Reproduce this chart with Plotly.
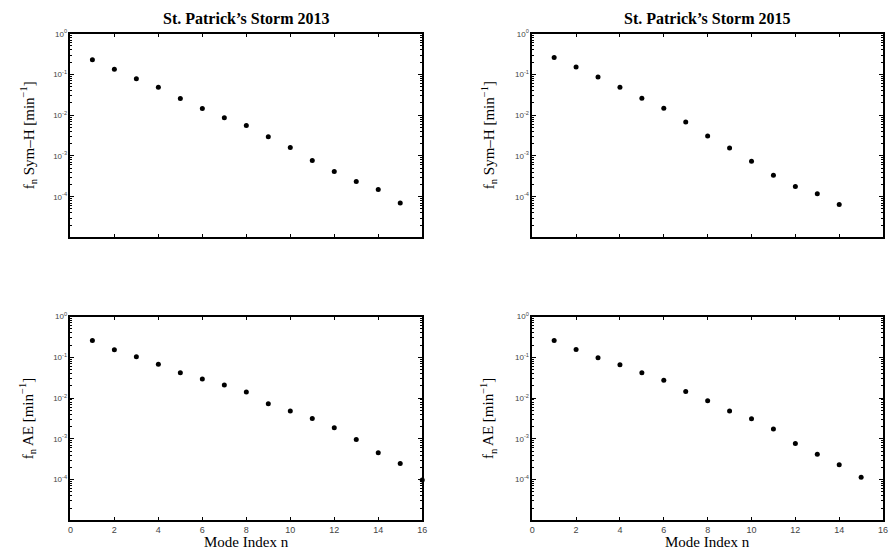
import plotly.graph_objects as go

# ---- data ----
n_sym_2013 = list(range(1, 16))
sym_2013 = [0.23, 0.135, 0.0785, 0.0485, 0.0258, 0.0145, 0.0086, 0.0056, 0.00294,
            0.00162, 0.00077, 0.000418, 0.000235, 0.000150, 0.0000703]

n_sym_2015 = list(range(1, 15))
sym_2015 = [0.262, 0.153, 0.086, 0.0485, 0.0262, 0.0148, 0.00678, 0.0031, 0.00156,
            0.000743, 0.000334, 0.000178, 0.000118, 0.000064]

n_ae_2013 = list(range(1, 17))
ae_2013 = [0.258, 0.153, 0.104, 0.0677, 0.0418, 0.0294, 0.021, 0.014, 0.0073,
           0.00484, 0.00316, 0.00188, 0.000964, 0.000458, 0.000248, 0.0000982]

n_ae_2015 = list(range(1, 16))
ae_2015 = [0.258, 0.156, 0.098, 0.0653, 0.0418, 0.0272, 0.0145, 0.0086, 0.00484,
           0.0031, 0.00175, 0.00077, 0.000418, 0.000231, 0.000114]

titles = ["St. Patrick\u2019s Storm 2013", "St. Patrick\u2019s Storm 2015"]
ylab_sym = "f<sub>n</sub> Sym\u2013H [min<sup>\u22121</sup>]"
ylab_ae = "f<sub>n</sub> AE [min<sup>\u22121</sup>]"
xlab = "Mode Index n"
ytickvals = [1, 0.1, 0.01, 0.001, 0.0001]
yticktext = ["10<sup>0</sup>", "10<sup>-1</sup>", "10<sup>-2</sup>", "10<sup>-3</sup>", "10<sup>-4</sup>"]
xtickvals = list(range(0, 17, 2))

W, H = 896, 550
def px_x(a, b):
    return [a / W, b / W]
def px_y(top, bottom):
    return [1 - bottom / H, 1 - top / H]

dom_x = [px_x(68, 423), px_x(534, 888)]
dom_y = [px_y(28, 234), px_y(314, 520)]

fig = go.Figure()
panels = [
    (n_sym_2013, sym_2013, 0, 0),
    (n_sym_2015, sym_2015, 0, 1),
    (n_ae_2013, ae_2013, 1, 0),
    (n_ae_2015, ae_2015, 1, 1),
]
tick_font = dict(family="Liberation Sans, Arial", size=8, color="#444444")
for i, (xs, ys, r, c) in enumerate(panels):
    k = i + 1
    sfx = "" if k == 1 else str(k)
    fig.add_trace(go.Scatter(x=xs, y=ys, mode="markers", cliponaxis=False,
                             marker=dict(color="black", size=5),
                             xaxis="x" + sfx, yaxis="y" + sfx, showlegend=False))
    xa = dict(domain=dom_x[c], anchor="y" + sfx, range=[0, 16], tickvals=xtickvals,
              ticks="inside", ticklen=4, tickcolor="black", mirror="allticks",
              showline=True, linecolor="black", linewidth=1.5, showgrid=False,
              zeroline=False, showticklabels=(r == 1),
              tickfont=dict(family="Liberation Sans, Arial", size=9, color="#444444"))
    ya = dict(domain=dom_y[r], anchor="x" + sfx, type="log", range=[-5, 0],
              tickvals=ytickvals, ticktext=yticktext,
              ticks="inside", ticklen=4, tickcolor="black", mirror="allticks",
              showline=True, linecolor="black", linewidth=1.5, showgrid=False,
              zeroline=False, tickfont=tick_font,
              minor=dict(ticks="inside", ticklen=2, tickcolor="black", dtick="D1", showgrid=False))
    fig.layout["xaxis" + sfx] = xa
    fig.layout["yaxis" + sfx] = ya

serif = "Liberation Serif, Times New Roman, serif"
ann = []
for c in range(2):
    cx = (dom_x[c][0] + dom_x[c][1]) / 2
    ann.append(dict(text="<b>" + titles[c] + "</b>", x=cx, y=1 - 13 / H, xref="paper", yref="paper",
                    showarrow=False, font=dict(family=serif, size=16, color="black"),
                    xanchor="center", yanchor="middle"))
    ann.append(dict(text=xlab, x=cx, y=1 - 542 / H, xref="paper", yref="paper",
                    showarrow=False, font=dict(family=serif, size=15, color="black"),
                    xanchor="center", yanchor="middle"))
label_x = [25 / W, 490 / W]
for r, lab in enumerate([ylab_sym, ylab_ae]):
    cy = (dom_y[r][0] + dom_y[r][1]) / 2
    for c in range(2):
        ann.append(dict(text=lab, x=label_x[c], y=cy, xref="paper", yref="paper",
                        showarrow=False, textangle=-90,
                        font=dict(family=serif, size=15, color="black"),
                        xanchor="center", yanchor="middle"))

fig.update_layout(width=W, height=H, margin=dict(l=0, r=0, t=0, b=0),
                  paper_bgcolor="white", plot_bgcolor="white", annotations=ann,
                  showlegend=False)
fig.write_html("out.html")
